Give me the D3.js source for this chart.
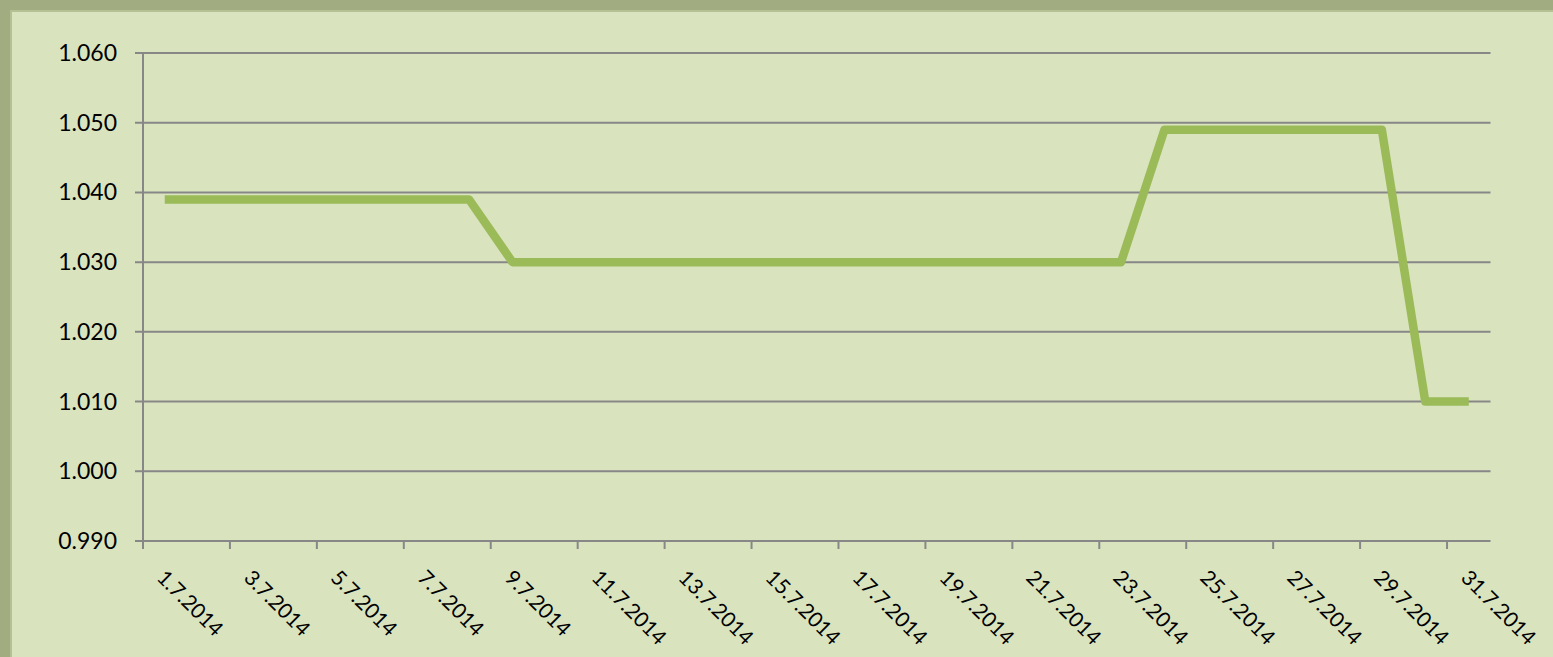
<!DOCTYPE html>
<html><head><meta charset="utf-8">
<script src="https://cdn.jsdelivr.net/npm/d3@7"></script>
<style>
html,body{margin:0;padding:0;background:#d9e4bf;overflow:hidden}
svg{display:block}
text{font-family:Lato,"Open Sans",sans-serif;fill:#000}
</style></head>
<body>
<svg id="c" width="1553" height="657"></svg>
<script>
const dates = ["1.7.2014","2.7.2014","3.7.2014","4.7.2014","5.7.2014","6.7.2014","7.7.2014","8.7.2014","9.7.2014","10.7.2014","11.7.2014","12.7.2014","13.7.2014","14.7.2014","15.7.2014","16.7.2014","17.7.2014","18.7.2014","19.7.2014","20.7.2014","21.7.2014","22.7.2014","23.7.2014","24.7.2014","25.7.2014","26.7.2014","27.7.2014","28.7.2014","29.7.2014","30.7.2014","31.7.2014"];
const values = [1.039,1.039,1.039,1.039,1.039,1.039,1.039,1.039,1.030,1.030,1.030,1.030,1.030,1.030,1.030,1.030,1.030,1.030,1.030,1.030,1.030,1.030,1.030,1.049,1.049,1.049,1.049,1.049,1.049,1.010,1.010];
const yTicks = [0.990,1.000,1.010,1.020,1.030,1.040,1.050,1.060];

const svg = d3.select("#c");
// frame
svg.append("rect").attr("x",0).attr("y",0).attr("width",1553).attr("height",657).attr("fill","#d9e4bf");
svg.append("rect").attr("x",0).attr("y",0).attr("width",1553).attr("height",10).attr("fill","#a1ad80");
svg.append("rect").attr("x",0).attr("y",0).attr("width",10).attr("height",657).attr("fill","#a1ad80");
svg.append("rect").attr("x",10).attr("y",10).attr("width",1543).attr("height",2).attr("fill","#b5c095");
svg.append("rect").attr("x",10).attr("y",10).attr("width",2).attr("height",647).attr("fill","#b5c095");

const pLeft = 143, pRight = 1490.5, pTop = 53, pBottom = 541;
const x = d3.scaleBand().domain(dates).range([pLeft, pRight]).padding(0);
const y = d3.scaleLinear().domain([0.990, 1.060]).range([pBottom, pTop]);

const g = svg.append("g");
// gridlines
g.selectAll("line.grid").data(yTicks).join("line")
  .attr("x1", pLeft - 8).attr("x2", pRight)
  .attr("y1", d => y(d)).attr("y2", d => y(d))
  .attr("stroke", "#878787").attr("stroke-width", 2);
// y axis line
g.append("line").attr("x1", pLeft).attr("x2", pLeft).attr("y1", pTop).attr("y2", pBottom)
  .attr("stroke", "#878787").attr("stroke-width", 2);
// y labels
g.selectAll("text.yl").data(yTicks).join("text")
  .attr("x", 117).attr("y", d => y(d)).attr("dy", "0.35em")
  .attr("text-anchor", "end").style("font-size", "23px")
  .text(d => d3.format(".3f")(d));
// x ticks at every second boundary
const tickIdx = d3.range(0, dates.length, 2);
g.selectAll("line.xt").data(tickIdx).join("line")
  .attr("x1", i => x(dates[i])).attr("x2", i => x(dates[i]))
  .attr("y1", pBottom).attr("y2", pBottom + 8)
  .attr("stroke", "#878787").attr("stroke-width", 2);
// x labels
g.selectAll("text.xl").data(tickIdx).join("text")
  .attr("transform", i => `translate(${x(dates[i]) + x.bandwidth()/2 - 9},${pBottom + 38}) rotate(45)`)
  .attr("text-anchor", "start").style("font-size", "21px")
  .text(i => dates[i]);

// line
const line = d3.line().x((d, i) => x(dates[i]) + x.bandwidth()/2).y(d => y(d));
g.append("path").datum(values).attr("d", line)
  .attr("fill", "none").attr("stroke", "#9bbb59").attr("stroke-width", 8.5)
  .attr("stroke-linejoin", "round").attr("stroke-linecap", "butt");
</script>
</body></html>
